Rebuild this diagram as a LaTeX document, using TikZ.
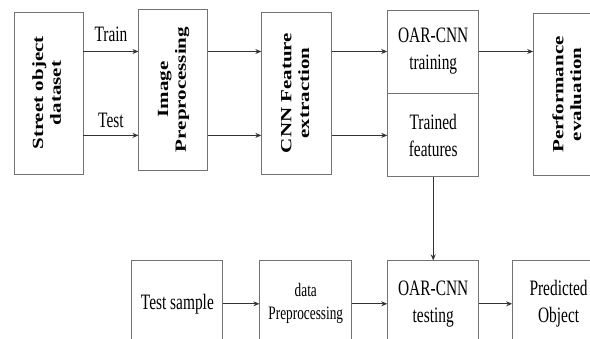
\documentclass[tikz,border=0pt]{standalone}
\usepackage{fontspec}
\setmainfont{Liberation Serif}
\newfontfamily\condfont[FakeStretch=0.7]{Liberation Serif}
\usepackage{graphicx}
\usetikzlibrary{positioning,arrows.meta}

\newcommand{\vlabel}[1]{\rotatebox{90}{\scalebox{1}[0.74]{\begin{tabular}{@{}c@{}}#1\end{tabular}}}}

\begin{document}
\begin{tikzpicture}[
  x=1pt, y=1pt,
  node distance = 55pt,
  box/.style = {draw=black!55, line width=0.9pt, align=center, inner sep=0pt},
  vbox/.style = {box, minimum width=69pt, minimum height=162pt,
                 font=\fontsize{21}{24}\bfseries\selectfont},
  hbox/.style = {box, minimum width=91pt, minimum height=83pt,
                 font=\condfont\fontsize{22}{27}\selectfont},
  lbl/.style = {inner sep=0pt, font=\condfont\fontsize{22}{27}\selectfont},
  >={Stealth[length=6pt,width=5pt]},
  arr/.style = {->, draw=black!80, line width=0.9pt}
]
  \useasboundingbox (0,0) rectangle (590,339);
  \clip (0,0) rectangle (590,339);

  % training path
  \node[vbox] (street) at (48.5,246) {\vlabel{Street object\\dataset}};
  \node[vbox, right=55pt of street, yshift=3.5pt, minimum height=161pt] (imgpre) {\vlabel{Image\\Preprocessing}};
  \node[vbox, right=53pt of imgpre, yshift=-3.5pt, minimum width=70pt] (cnnfe) {\vlabel{CNN Feature\\extraction}};
  \node[hbox, right=55pt of cnnfe, yshift=41.5pt] (train) {OAR-CNN\\training};
  \node[hbox, below=0pt of train] (feat) {Trained\\features};
  \node[vbox, right=54pt of train, yshift=-43pt, minimum width=70pt] (perf) {\vlabel{Performance\\evaluation}};

  % testing path
  \node[hbox, below=83pt of feat, minimum height=86pt] (test) {OAR-CNN\\testing};
  \node[hbox, left=35pt of test, minimum width=92pt, minimum height=86pt,
        font=\condfont\fontsize{19}{23}\selectfont] (dpre) {data\\Preprocessing};
  \node[hbox, left=36pt of dpre, minimum height=86pt] (tsample) {Test sample};
  \node[hbox, right=33pt of test, minimum width=92pt, minimum height=86pt] (pred) {Predicted\\Object};

  \draw[arr] (street.east |- train.west) -- node[lbl, above=9pt]{Train} (imgpre.west |- train.west);
  \draw[arr] (street.east |- feat.west) -- node[lbl, above=7pt]{Test} (imgpre.west |- feat.west);
  \draw[arr] (imgpre.east |- train.west) -- (cnnfe.west |- train.west);
  \draw[arr] (imgpre.east |- feat.west) -- (cnnfe.west |- feat.west);
  \draw[arr] (cnnfe.east |- train.west) -- (train.west);
  \draw[arr] (cnnfe.east |- feat.west) -- (feat.west);
  \draw[arr] (train.east) -- (perf.west |- train.east);
  \draw[arr] (feat.south) -- (test.north);
  \draw[arr] (tsample.east) -- (dpre.west);
  \draw[arr] (dpre.east) -- (test.west);
  \draw[arr] (test.east) -- (pred.west);
\end{tikzpicture}
\end{document}
